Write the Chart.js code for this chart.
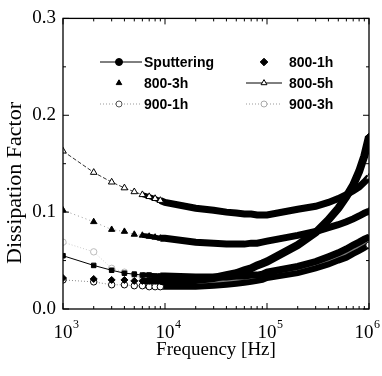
<!DOCTYPE html>
<html>
<head>
<meta charset="utf-8">
<script src="https://cdn.jsdelivr.net/npm/chart.js@4/dist/chart.umd.min.js"></script>
<style>
  html, body { margin: 0; padding: 0; background: #fff; }
  #wrap { width: 382px; height: 376px; }
</style>
</head>
<body>
<div id="wrap"><canvas id="myChart" width="382" height="376"></canvas></div>
<script>
// frequency points (Hz): 1..9 x 10^3, 1..9 x 10^4, 1..9 x 10^5, 10^6
const freqHz = [
  1e3, 2e3, 3e3, 4e3, 5e3, 6e3, 7e3, 8e3, 9e3,
  1e4, 2e4, 3e4, 4e4, 5e4, 6e4, 7e4, 8e4, 9e4,
  1e5, 2e5, 3e5, 4e5, 5e5, 6e5, 7e5, 8e5, 9e5,
  1e6
];

const sputtering = [
  0.055, 0.045, 0.040, 0.037, 0.036, 0.035, 0.035, 0.034, 0.034,
  0.034, 0.033, 0.033, 0.033, 0.034, 0.034, 0.035, 0.035, 0.036,
  0.038, 0.044, 0.049, 0.054, 0.058, 0.062, 0.066, 0.069, 0.072,
  0.074
];
const s800_1h = [
  0.032, 0.031, 0.030, 0.030, 0.029, 0.029, 0.029, 0.029, 0.029,
  0.029, 0.030, 0.032, 0.035, 0.037, 0.040, 0.042, 0.045, 0.047,
  0.049, 0.066, 0.079, 0.092, 0.104, 0.116, 0.128, 0.142, 0.158,
  0.178
];
const s800_3h = [
  0.102, 0.090, 0.082, 0.080, 0.077, 0.076, 0.075, 0.074, 0.073,
  0.073, 0.069, 0.068, 0.067, 0.067, 0.067, 0.068, 0.068, 0.069,
  0.070, 0.076, 0.080, 0.084, 0.087, 0.090, 0.093, 0.096, 0.099,
  0.101
];
const s800_5h = [
  0.163, 0.141, 0.131, 0.125, 0.121, 0.118, 0.116, 0.114, 0.112,
  0.110, 0.104, 0.102, 0.100, 0.099, 0.098, 0.098, 0.097, 0.097,
  0.097, 0.103, 0.106, 0.110, 0.114, 0.118, 0.122, 0.126, 0.131,
  0.136
];
const s900_1h = [
  0.030, 0.028, 0.025, 0.025, 0.024, 0.024, 0.023, 0.023, 0.023,
  0.023, 0.023, 0.024, 0.025, 0.026, 0.027, 0.028, 0.029, 0.030,
  0.032, 0.037, 0.042, 0.046, 0.050, 0.053, 0.057, 0.060, 0.063,
  0.066
];
const s900_3h = [
  0.069, 0.059, 0.042, 0.038, 0.035, 0.033, 0.032, 0.031, 0.030,
  0.030, 0.029, 0.028, 0.028, 0.029, 0.030, 0.031, 0.032, 0.033,
  0.034, 0.040, 0.045, 0.049, 0.053, 0.057, 0.061, 0.064, 0.067,
  0.070
];

const seriesNames = ['Sputtering', '800-1h', '800-3h', '800-5h', '900-1h', '900-3h'];
const yTickValues = [0, 0.1, 0.2, 0.3];
const xDecades = [3, 4, 5, 6];
const supDigits = { 3: '3', 4: '4', 5: '5', 6: '6' };
const yTitle = 'Dissipation Factor';

const SERIF = '"Liberation Serif", "Times New Roman", serif';

function pts(vals) {
  return freqHz.map((f, i) => ({ x: f, y: vals[i] }));
}

// thin dashed/dotted line with spaced markers at low f, thick band where markers pile up
function seg(thinColor, dash, bandColor, bandW) {
  return {
    borderWidth: c => c.p0.parsed.x >= 9000 ? bandW : (c.p0.parsed.x >= 6000 ? bandW - 2 : 1),
    borderColor: c => c.p0.parsed.x >= 6000 ? bandColor : thinColor,
    borderDash: c => c.p0.parsed.x >= 6000 ? [] : dash
  };
}

function makeSet(label, vals, style, fill, thinColor, dash, bandColor, bandW, radius) {
  return {
    label: label,
    data: pts(vals),
    showLine: true,
    borderColor: bandColor,
    borderWidth: 1,
    pointStyle: style,
    // markers stay visible where they are spaced apart, and at the last point
    pointRadius: c => (c.dataIndex <= 8 || c.dataIndex === freqHz.length - 1) ? radius : 0,
    pointBackgroundColor: fill,
    pointBorderColor: bandColor,
    pointBorderWidth: 1,
    tension: 0,
    segment: seg(thinColor, dash, bandColor, bandW)
  };
}

const datasets = [
  makeSet(seriesNames[0], sputtering, 'rect', '#000', '#000', [], '#000', 7, 3.2),
  makeSet(seriesNames[1], s800_1h, 'rectRot', '#000', 'rgba(0,0,0,0)', [], '#000', 8, 3.5),
  makeSet(seriesNames[2], s800_3h, 'triangle', '#000', '#999', [1, 3], '#000', 7, 3.6),
  makeSet(seriesNames[3], s800_5h, 'triangle', '#fff', '#333', [4, 2], '#000', 7, 3.8),
  makeSet(seriesNames[4], s900_1h, 'circle', '#fff', '#888', [1, 2], '#000', 6, 3.2),
  makeSet(seriesNames[5], s900_3h, 'circle', '#fff', '#ccc', [1, 2], '#777', 5, 3.2)
];
datasets[5].pointBorderColor = '#bbb';

const legendItems = [
  { i: 0, x: 119, y: 62, line: 'solid', lx0: 100, lx1: 142, marker: 'circle', fill: '#000', stroke: '#000', r: 3.5 },
  { i: 1, x: 264, y: 62, line: 'none', marker: 'rectRot', fill: '#000', stroke: '#000', r: 3.8 },
  { i: 2, x: 119, y: 83, line: 'none', marker: 'triangle', fill: '#000', stroke: '#000', r: 3.2 },
  { i: 3, x: 264, y: 83, line: 'solid', lx0: 246, lx1: 282, marker: 'triangle', fill: '#fff', stroke: '#000', r: 3.4 },
  { i: 4, x: 119, y: 104, line: 'dot', lx0: 100, lx1: 142, marker: 'circle', fill: '#fff', stroke: '#555', r: 3 },
  { i: 5, x: 264, y: 104, line: 'dot', lx0: 246, lx1: 282, marker: 'circle', fill: '#fff', stroke: '#aaa', r: 3 }
];

const framePlugin = {
  id: 'frame',
  afterDatasetsDraw(chart) {
    const { ctx, chartArea: a, scales } = chart;
    const xs = scales.x, ys = scales.y;
    ctx.save();
    ctx.strokeStyle = '#000';
    ctx.lineWidth = 1.3;
    ctx.strokeRect(a.left, a.top, a.right - a.left, a.bottom - a.top);

    // inward ticks
    ctx.lineWidth = 1;
    ctx.beginPath();
    for (let d = 3; d <= 6; d++) {
      for (let m = 1; m <= 9; m++) {
        const v = m * Math.pow(10, d);
        if (v > 1e6) break;
        const px = xs.getPixelForValue(v);
        const len = m === 1 ? 6 : 3;
        ctx.moveTo(px, a.bottom); ctx.lineTo(px, a.bottom - len);
        ctx.moveTo(px, a.top); ctx.lineTo(px, a.top + len);
      }
    }
    for (let k = 0; k <= 6; k++) {
      const py = ys.getPixelForValue(k * 0.05);
      const len = k % 2 === 0 ? 6 : 3;
      ctx.moveTo(a.left, py); ctx.lineTo(a.left + len, py);
      ctx.moveTo(a.right, py); ctx.lineTo(a.right - len, py);
    }
    ctx.stroke();

    // x tick labels 10^n
    ctx.fillStyle = '#000';
    ctx.textBaseline = 'middle';
    xDecades.forEach((d, k) => {
      let px = xs.getPixelForValue(Math.pow(10, d));
      if (k === xDecades.length - 1) px -= 5;
      ctx.font = '19px ' + SERIF;
      ctx.textAlign = 'center';
      const w = ctx.measureText('10').width;
      ctx.fillText('10', px, 333);
      ctx.font = '12px ' + SERIF;
      ctx.textAlign = 'left';
      ctx.fillText(supDigits[d], px + w / 2 + 0.5, 325);
    });

    // y title
    ctx.save();
    ctx.translate(15, 183);
    ctx.rotate(-Math.PI / 2);
    ctx.font = '22px ' + SERIF;
    ctx.textAlign = 'center';
    ctx.textBaseline = 'middle';
    ctx.fillText(yTitle, 0, 0);
    ctx.restore();

    // legend
    legendItems.forEach(it => {
      ctx.save();
      if (it.line !== 'none') {
        ctx.beginPath();
        ctx.lineWidth = 1;
        ctx.strokeStyle = it.line === 'dot' ? '#999' : '#000';
        ctx.setLineDash(it.line === 'dot' ? [1, 2] : []);
        ctx.moveTo(it.lx0, it.y); ctx.lineTo(it.lx1, it.y);
        ctx.stroke();
      }
      ctx.setLineDash([]);
      ctx.fillStyle = it.fill;
      ctx.strokeStyle = it.stroke;
      ctx.lineWidth = 1;
      Chart.helpers.drawPoint(ctx, { pointStyle: it.marker, radius: it.r, rotation: 0, borderWidth: 1 }, it.x, it.y);
      ctx.restore();
      ctx.fillStyle = '#000';
      ctx.font = 'bold 14px "Liberation Sans", Arial, sans-serif';
      ctx.textAlign = 'left';
      ctx.textBaseline = 'middle';
      ctx.fillText(seriesNames[it.i], it.x + 25, it.y + 1);
    });
    ctx.restore();
  }
};

new Chart(document.getElementById('myChart').getContext('2d'), {
  type: 'scatter',
  data: { datasets: datasets },
  options: {
    responsive: false,
    animation: false,
    layout: { padding: { top: 13, right: 13, left: 0, bottom: 0 } },
    plugins: {
      legend: { display: false },
      tooltip: { enabled: false }
    },
    scales: {
      x: {
        type: 'logarithmic',
        min: 1e3,
        max: 1e6,
        grid: { display: false, drawTicks: false },
        border: { display: false },
        ticks: { display: false },
        title: {
          display: true,
          text: 'Frequency [Hz]',
          color: '#000',
          font: { family: SERIF, size: 19 },
          padding: { top: 0, bottom: 15 }
        },
        afterFit: s => { s.height = 67; }
      },
      y: {
        min: 0,
        max: 0.3,
        grid: { display: false, drawTicks: false },
        border: { display: false },
        afterBuildTicks: s => { s.ticks = yTickValues.map(v => ({ value: v })); },
        ticks: {
          color: '#000',
          padding: 7,
          font: { family: SERIF, size: 19 },
          callback: v => v.toFixed(1)
        },
        afterFit: s => { s.width = 63; }
      }
    }
  },
  plugins: [framePlugin]
});
</script>
</body>
</html>
